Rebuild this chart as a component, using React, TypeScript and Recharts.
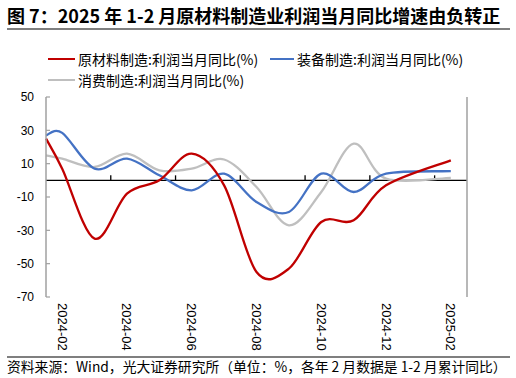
import { Line, LineChart, ReferenceLine, XAxis, YAxis } from 'recharts'

// x position: month index from 2024-02 (0); 2025-01 has no release, so 2025-02 = 12
// first entry is where the curves enter the plot at its left edge
const monthPos = [-0.5, 0, 1, 2, 3, 4, 5, 6, 7, 8, 9, 10, 12]
const rawMaterial = [25, 7, -35, -8, 0, 16, -3, -55, -53, -25, -24, -3, 12]
const equipment = [27, 28.5, 7, 13, 3, -6, 4, -13, -19, 4, -7, 4, 5.5]
const consumer = [15, 13, 8, 16, 6, 7, 12.5, -4, -27, -7, 22, 1, 1.5]

const tickPos = [0, 2, 4, 6, 8, 10, 12]
const tickLabels = ['2024-02', '2024-04', '2024-06', '2024-08', '2024-10', '2024-12', '2025-02']
const yTicks = [50, 30, 10, -10, -30, -50, -70]

const seriesNames = ['原材料制造:利润当月同比(%)', '装备制造:利润当月同比(%)', '消费制造:利润当月同比(%)']
const seriesKeys = ['raw', 'equip', 'consumer']
const seriesColors = ['#C00000', '#4472C4', '#BFBFBF']

const data = monthPos.map((pos, i) => ({
  pos,
  raw: rawMaterial[i],
  equip: equipment[i],
  consumer: consumer[i],
}))

const CJK = '"Noto Sans CJK SC", "Noto Sans", sans-serif'
const NUM = '"Liberation Sans", Arial, sans-serif'

// Excel-style smoothed line (bezier, control points at 1/6 of neighbour chord)
function excelSmooth(context: any) {
  let pts: number[][] = []
  return {
    areaStart() {},
    areaEnd() {},
    lineStart() {
      pts = []
    },
    lineEnd() {
      if (!pts.length) return
      context.moveTo(pts[0][0], pts[0][1])
      for (let i = 0; i < pts.length - 1; i++) {
        const p0 = pts[i - 1] ?? pts[i]
        const p1 = pts[i]
        const p2 = pts[i + 1]
        const p3 = pts[i + 2] ?? p2
        context.bezierCurveTo(
          p1[0] + (p2[0] - p0[0]) / 6,
          p1[1] + (p2[1] - p0[1]) / 6,
          p2[0] - (p3[0] - p1[0]) / 6,
          p2[1] - (p3[1] - p1[1]) / 6,
          p2[0],
          p2[1],
        )
      }
    },
    point(x: number, y: number) {
      pts.push([+x, +y])
    },
  }
}

function MonthTick({ x, y, payload }: any) {
  const label = tickLabels[tickPos.indexOf(payload.value)]
  return (
    <text
      transform={`translate(${x},${y + 6}) rotate(90)`}
      textAnchor="start"
      dominantBaseline="central"
      fontSize={13}
      fontFamily={NUM}
      fill="#000"
    >
      {label}
    </text>
  )
}

// zero line with small upward tick marks every two months (slot boundaries)
const X_DOMAIN = [-0.5, 12.5]
const boundaryTicks = [1.5, 3.5, 5.5, 7.5, 9.5, 11.5]

function ZeroAxis(props: any) {
  const { x1, y1, x2 } = props
  const span = X_DOMAIN[1] - X_DOMAIN[0]
  return (
    <g>
      <line x1={x1} y1={y1} x2={x2} y2={y1} stroke="#000" strokeWidth={1.3} />
      {boundaryTicks.map((t) => {
        const px = x1 + ((t - X_DOMAIN[0]) / span) * (x2 - x1)
        return <line key={t} x1={px} y1={y1} x2={px} y2={y1 - 5} stroke="#000" strokeWidth={1.3} />
      })}
    </g>
  )
}

export default function App() {
  return (
    <div style={{ position: 'absolute', left: 0, top: 0, width: 516, height: 378, background: '#fff', fontFamily: CJK }}>
      <div
        style={{
          position: 'absolute',
          left: 7,
          top: 3,
          fontSize: 18,
          lineHeight: '24px',
          fontWeight: 700,
          color: '#000',
          whiteSpace: 'nowrap',
        }}
      >
        图 7：2025 年 1-2 月原材料制造业利润当月同比增速由负转正
      </div>
      <div style={{ position: 'absolute', left: 7, top: 28, width: 503, height: 1.5, background: '#7f7f7f' }} />

      {/* legend */}
      {[
        { i: 0, left: 48, top: 59, w: 27 },
        { i: 1, left: 270, top: 59, w: 24 },
        { i: 2, left: 48, top: 80, w: 27 },
      ].map(({ i, left, top, w }) => (
        <div key={i} style={{ position: 'absolute', left, top: top - 10, height: 20, display: 'flex', alignItems: 'center', whiteSpace: 'nowrap' }}>
          <span style={{ display: 'inline-block', width: w, height: 2.5, background: seriesColors[i] }} />
          <span style={{ marginLeft: 3, fontSize: 14, lineHeight: '20px', color: '#000' }}>{seriesNames[i]}</span>
        </div>
      ))}

      <div style={{ position: 'absolute', left: 0, top: 0 }}>
        <LineChart width={516} height={378} data={data} margin={{ top: 97, right: 9, bottom: 21, left: 6 }}>
          <XAxis
            dataKey="pos"
            type="number"
            domain={X_DOMAIN}
            ticks={tickPos}
            interval={0}
            axisLine={false}
            tickLine={false}
            tickSize={0}
            tickMargin={0}
            height={60}
            tick={<MonthTick />}
          />
          <YAxis
            yAxisId="left"
            domain={[-70, 50]}
            ticks={yTicks}
            interval={0}
            width={40}
            axisLine={{ stroke: '#A0A0A0', strokeWidth: 1.5 }}
            tickLine={{ stroke: '#A0A0A0', strokeWidth: 1.2 }}
            tickSize={-4}
            tickMargin={16}
            tick={{ fontSize: 12, fill: '#000', fontFamily: NUM }}
          />
          <YAxis
            yAxisId="right"
            orientation="right"
            domain={[-70, 50]}
            ticks={yTicks}
            interval={0}
            width={40}
            axisLine={{ stroke: '#A0A0A0', strokeWidth: 1.5 }}
            tickLine={{ stroke: '#A0A0A0', strokeWidth: 1.2 }}
            tickSize={-4}
            tickMargin={14}
            tick={{ fontSize: 12, fill: '#000', fontFamily: NUM }}
          />
          <ReferenceLine yAxisId="left" y={0} shape={<ZeroAxis />} />
          {[2, 1, 0].map((i) => (
            <Line
              key={seriesKeys[i]}
              yAxisId="left"
              dataKey={seriesKeys[i]}
              type={excelSmooth as any}
              stroke={seriesColors[i]}
              strokeWidth={2.3}
              dot={false}
              activeDot={false}
              isAnimationActive={false}
            />
          ))}
        </LineChart>
      </div>

      <div style={{ position: 'absolute', left: 7, top: 356, width: 503, height: 1.5, background: '#7f7f7f' }} />
      <div
        style={{
          position: 'absolute',
          left: 7,
          top: 357,
          fontSize: 13.8,
          lineHeight: '19px',
          color: '#000',
          whiteSpace: 'nowrap',
        }}
      >
        资料来源：Wind，光大证券研究所（单位：%，各年 2 月数据是 1-2 月累计同比）
      </div>
    </div>
  )
}
